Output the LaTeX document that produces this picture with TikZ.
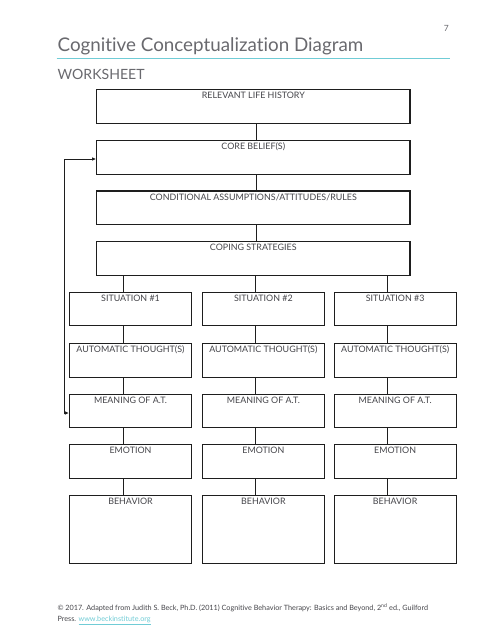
\documentclass[tikz,border=0pt]{standalone}
\usepackage{fontspec}
\setmainfont{Lato}[Ligatures=NoCommon]
\usetikzlibrary{arrows.meta,calc}
\definecolor{teal1}{RGB}{112,204,214}
\definecolor{txtgray}{RGB}{70,70,75}
\definecolor{titlegray}{RGB}{105,105,110}
\definecolor{boxline}{RGB}{30,30,30}
\begin{document}
\begin{tikzpicture}[x=1pt,y=-1pt,
  bigbox/.style={draw=boxline, line width=1.1pt, inner sep=0pt, minimum width=313.3pt, minimum height=33.7pt},
  colbox/.style={draw=boxline, line width=1.1pt, inner sep=0pt, minimum width=122pt, minimum height=33.8pt},
  behbox/.style={colbox, minimum height=68pt},
  lbl/.style={font=\fontsize{8.9}{10}\selectfont, text=txtgray, anchor=base, inner sep=0pt},
  conn/.style={draw=boxline, line width=0.8pt}
]
\fill[white] (0,0) rectangle (494,641);
\useasboundingbox (0,0) rectangle (494,641);

% header
\node[anchor=base east, inner sep=0pt, font=\fontsize{8.5}{10}\selectfont, text=titlegray] (pg) at (449,31) {7};
\node[anchor=base west, inner sep=0pt, font=\fontsize{18.8}{21}\selectfont, text=titlegray] (title) at (57.5,51) {Cognitive Conceptualization Diagram};
\coordinate (rl) at (56.7,58.3);
\coordinate (rr) at (450,58.3);
\draw[teal1, line width=1.3pt] (rl) -- (rr);
\node[anchor=base west, inner sep=0pt, font=\fontsize{14.1}{17}\selectfont, text=titlegray] (ws) at (57.5,79) {WORKSHEET};

% main stack
\node[bigbox] (rlh) at (253.3,106.2) {};
\node[bigbox] (cb)  at (253.3,157.2) {};
\node[bigbox] (ca)  at (253.3,207.8) {};
\node[bigbox] (cs)  at (253.3,258.5) {};
\node[lbl] (rlhT) at ([yshift=-9.8pt]rlh.north) {RELEVANT LIFE HISTORY};
\node[lbl] (cbT)  at ([yshift=-9.8pt]cb.north) {CORE BELIEF(S)};
\node[lbl] (caT)  at ([yshift=-9.8pt]ca.north) {CONDITIONAL ASSUMPTIONS/ATTITUDES/RULES};
\node[lbl] (csT)  at ([yshift=-9.8pt]cs.north) {COPING STRATEGIES};
\draw[conn] ([xshift=3.4pt]rlh.south) -- ([xshift=3.4pt]cb.north);
\draw[conn] ([xshift=3.4pt]cb.south) -- ([xshift=3.4pt]ca.north);
\draw[conn] ([xshift=3.4pt]ca.south) -- ([xshift=3.4pt]cs.north);

% columns
\foreach \c/\x in {1/130.5,2/263.35,3/395.15}{
  \node[colbox] (s\c) at (\x,309) {};
  \node[colbox] (a\c) at (\x,360.2) {};
  \node[colbox] (m\c) at (\x,411) {};
  \node[colbox] (e\c) at (\x,461.5) {};
  \node[behbox] (b\c) at (\x,529.3) {};
  \node[lbl] (s\c T) at ([yshift=-9.8pt]s\c.north) {SITUATION \#\c};
  \node[lbl] (a\c T) at ([yshift=-9.8pt]a\c.north) {AUTOMATIC THOUGHT(S)};
  \node[lbl] (m\c T) at ([yshift=-9.8pt]m\c.north) {MEANING OF A.T.};
  \node[lbl] (e\c T) at ([yshift=-9.8pt]e\c.north) {EMOTION};
  \node[lbl] (b\c T) at ([yshift=-9.8pt]b\c.north) {BEHAVIOR};
  \draw[conn] ([xshift=-7.5pt]s\c.north) -- ([xshift=-7.5pt]s\c.north |- cs.south);
  \draw[conn] ([xshift=-7.5pt]s\c.south) -- ([xshift=-7.5pt]a\c.north);
  \draw[conn] ([xshift=-7.5pt]a\c.south) -- ([xshift=-7.5pt]m\c.north);
  \draw[conn] ([xshift=-7.5pt]m\c.south) -- ([xshift=-7.5pt]e\c.north);
  \draw[conn] ([xshift=-7.5pt]e\c.south) -- ([xshift=-7.5pt]b\c.north);
}

% feedback arrow
\coordinate (ab) at (64,413);
\coordinate (at) at (64,159);
\draw[conn, {Latex[length=4pt,width=3.6pt]}-{Latex[length=4pt,width=3.6pt]}] (m1.west |- ab) -- (ab) -- (at) -- (cb.west |- at);

% footer
\node[anchor=base west, inner sep=0pt, font=\fontsize{7.25}{8}\selectfont, text=txtgray] (f1) at (57.3,610.8)
  {\textcopyright{} 2017. Adapted from Judith S. Beck, Ph.D. (2011) Cognitive Behavior Therapy: Basics and Beyond, 2\textsuperscript{nd} ed., Guilford};
\node[anchor=base west, inner sep=0pt, font=\fontsize{7.25}{8}\selectfont, text=txtgray] (f2) at (57.3,621.8)
  {Press. \textcolor{teal1}{\underline{www.beckinstitute.org}}};
\end{tikzpicture}
\end{document}
